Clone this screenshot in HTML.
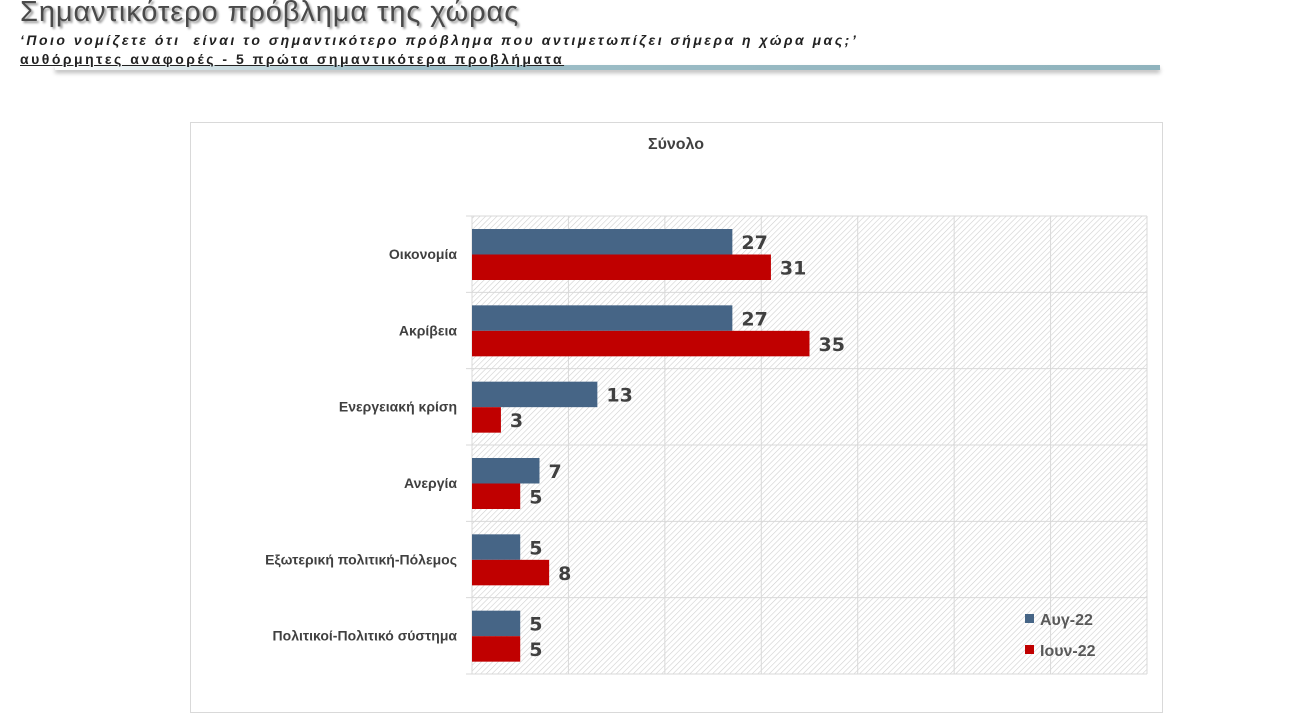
<!DOCTYPE html>
<html><head><meta charset="utf-8"><style>
body{margin:0;width:1293px;height:727px;background:#fff;overflow:hidden;font-family:"Liberation Sans","DejaVu Sans",sans-serif;position:relative}
.t{position:absolute;left:20px;top:-4px;font-size:29px;color:#4a4a4a;letter-spacing:0.9px;text-shadow:2px 2px 2px #999}
.s1{position:absolute;left:20px;top:32px;font-size:14px;font-style:italic;font-weight:bold;color:#222;letter-spacing:2.5px}
.s2{position:absolute;left:20px;top:51px;font-size:14px;font-weight:bold;color:#222;text-decoration:underline;letter-spacing:2.5px}
.bar{position:absolute;left:55px;top:65px;width:1105px;height:5px;background:linear-gradient(to right,#fff,#9fbfc8 30%,#8fb3bd);box-shadow:0 3px 4px #bbb}
</style></head><body>
<div class="t">Σημαντικότερο πρόβλημα της χώρας</div>
<div class="s1">‘Ποιο νομίζετε ότι&nbsp; είναι το σημαντικότερο πρόβλημα που αντιμετωπίζει σήμερα η χώρα μας;’</div>
<div class="bar"></div>
<div class="s2">αυθόρμητες αναφορές - 5 πρώτα σημαντικότερα προβλήματα</div>
<svg id="c" width="1293" height="727" style="position:absolute;left:0;top:0">
<defs><pattern id="h" width="4" height="4" patternUnits="userSpaceOnUse" patternTransform="rotate(45)"><line x1="0" y1="0" x2="0" y2="4" stroke="#cfcfcf" stroke-width="1.2"/></pattern></defs>
<rect x="190.5" y="122.5" width="972" height="590" fill="none" stroke="#d9d9d9"/>
<text x="676" y="149" text-anchor="middle" font-size="16" font-weight="bold" fill="#404040">Σύνολο</text>
<rect x="472" y="216" width="675" height="458" fill="url(#h)"/>
</svg>
<script>
const categories=["Οικονομία","Ακρίβεια","Ενεργειακή κρίση","Ανεργία","Εξωτερική πολιτική-Πόλεμος","Πολιτικοί-Πολιτικό σύστημα"];
const aug22=[27,27,13,7,5,5];
const jun22=[31,35,3,5,8,5];
const seriesNames=["Αυγ-22","Ιουν-22"];
const colors=["#466586","#c00000"];
const xMax=70, xStep=10;
const svg=document.getElementById('c');const NS="http://www.w3.org/2000/svg";
const L=472,R=1147,T=216,B=674;
const x=v=>L+v/xMax*(R-L);
const band=(B-T)/categories.length;
const y=i=>T+i*band;
function mk(t,a){const e=document.createElementNS(NS,t);for(const k in a)e.setAttribute(k,a[k]);svg.appendChild(e);return e;}
for(let v=0;v<=xMax;v+=xStep){const g=mk('line',{x1:x(v),x2:x(v),y1:T,y2:B,stroke:'#d9d9d9'});

}
for(let i=0;i<=categories.length;i++){const g=mk('line',{x1:L-6,x2:R,y1:y(i),y2:y(i),stroke:'#d9d9d9'});

}
[aug22,jun22].forEach((s,si)=>{s.forEach((v,i)=>{
const by=y(i)+13+si*25.5;
const r=mk('rect',{x:L,y:by,width:x(v)-L,height:25.5,fill:colors[si]});


const t=mk('text',{x:x(v)+9,y:by+20,'font-size':19,'font-weight':'bold',fill:'#404040','font-family':'DejaVu Sans, sans-serif'});t.textContent=v;


});});
categories.forEach((c,i)=>{const t=mk('text',{x:457,y:y(i)+43,'text-anchor':'end','font-size':14,'font-weight':'bold',fill:'#404040'});t.textContent=c;

});
seriesNames.forEach((n,si)=>{const yy=619+si*31;
const r=mk('rect',{x:1025,y:yy-5,width:9,height:9,fill:colors[si]});


const t=mk('text',{x:1040,y:yy+6,'font-size':16,'font-weight':'bold',fill:'#595959'});t.textContent=n;

});
</script>
</body></html>
